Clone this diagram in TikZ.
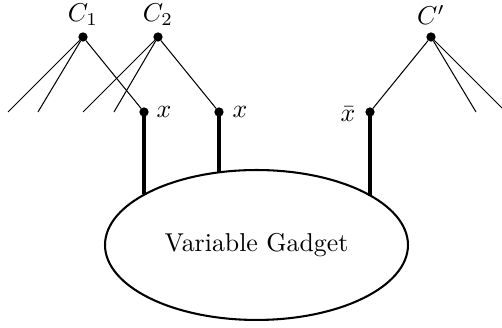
\documentclass[tikz,border=0pt]{standalone}
\usetikzlibrary{shapes.geometric}
\begin{document}
\begin{tikzpicture}[x=0.3875pt,y=-0.3875pt,
  dot/.style={circle,fill=black,inner sep=0pt,minimum size=3.6pt,outer sep=0pt},
  thin/.style={line width=0.4pt},
  thick/.style={line width=1.3pt},
  lbl/.style={inner sep=0pt}]
\useasboundingbox (0,0) rectangle (502,328);
% gadget
\node[draw,ellipse,line width=0.8pt,inner sep=0pt,outer sep=0pt,
  minimum width=117.4pt,minimum height=58.1pt] (g) at (256.5,245) {Variable Gadget};
% clause dots
\node[dot] (c1) at (83,37) {};
\node[dot] (c2) at (158,37) {};
\node[dot] (c3) at (431,37) {};
\node[lbl] (c1l) at (83,15) {$C_1$};
\node[lbl] (c2l) at (158,15) {$C_2$};
\node[lbl] (c3l) at (431,15) {$C'$};
% literal dots
\node[dot] (x1) at (144,112) {};
\node[dot] (x2) at (219,112) {};
\node[dot] (x3) at (370,112) {};
\node[lbl] (x1l) at (164,112) {$x$};
\node[lbl] (x2l) at (240,112) {$x$};
\node[lbl] (x3l) at (348,114) {$\bar{x}$};
% free ends
\coordinate (a1) at (8,112);
\coordinate (a2) at (38,112);
\coordinate (b1) at (83,112);
\coordinate (b2) at (114,112);
\coordinate (d1) at (476,112);
\coordinate (d2) at (506,112);
% thin connectors
\draw[thin] (c1) -- (a1);
\draw[thin] (c1) -- (a2);
\draw[thin] (c1) -- (x1);
\draw[thin] (c2) -- (b1);
\draw[thin] (c2) -- (b2);
\draw[thin] (c2) -- (x2);
\draw[thin] (c3) -- (x3);
\draw[thin] (c3) -- (d1);
\draw[thin] (c3) -- (d2);
% thick connectors
\draw[thick] (x1.center) -- (x1 |- g.155.9);
\draw[thick] (x2.center) -- (x2 |- g.117.3);
\draw[thick] (x3.center) -- (x3 |- g.23.65);
\end{tikzpicture}
\end{document}
